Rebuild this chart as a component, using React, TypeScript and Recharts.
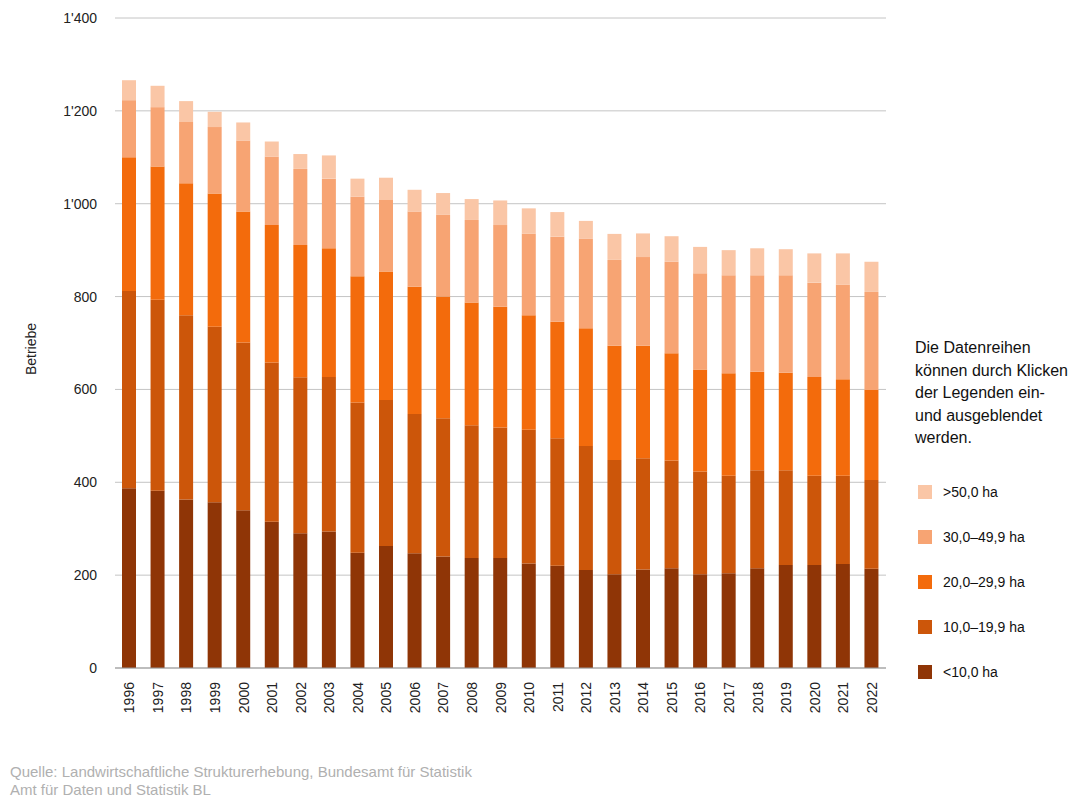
import { BarChart, Bar, XAxis, YAxis, CartesianGrid, Legend, Label } from 'recharts'

const years = [
  '1996', '1997', '1998', '1999', '2000', '2001', '2002', '2003', '2004',
  '2005', '2006', '2007', '2008', '2009', '2010', '2011', '2012', '2013',
  '2014', '2015', '2016', '2017', '2018', '2019', '2020', '2021', '2022',
]

// Betriebe nach Grössenklasse (landwirtschaftliche Nutzfläche)
const lt10 = [387, 382, 363, 357, 340, 315, 290, 294, 248, 263, 247, 240, 237, 237, 225, 220, 211, 202, 212, 215, 202, 204, 215, 222, 222, 224, 214]
const c10to20 = [425, 411, 397, 378, 361, 343, 336, 333, 324, 314, 300, 298, 286, 281, 288, 275, 267, 246, 240, 232, 221, 210, 211, 204, 192, 190, 191]
const c20to30 = [288, 287, 284, 287, 282, 296, 285, 277, 272, 277, 274, 262, 264, 260, 247, 251, 254, 246, 242, 231, 220, 221, 212, 210, 213, 208, 194]
const c30to50 = [123, 128, 132, 143, 153, 147, 164, 150, 171, 154, 162, 176, 178, 176, 176, 183, 193, 185, 191, 197, 207, 211, 208, 210, 203, 204, 211]
const gt50 = [43, 46, 45, 33, 39, 33, 32, 50, 39, 48, 47, 47, 45, 53, 54, 53, 38, 56, 51, 55, 57, 54, 58, 56, 63, 67, 65]

const yTicks = [0, 200, 400, 600, 800, 1000, 1200, 1400]

const series = [
  { key: 'lt10', name: '<10,0 ha', color: '#8f3506' },
  { key: 'c10to20', name: '10,0–19,9 ha', color: '#cc560a' },
  { key: 'c20to30', name: '20,0–29,9 ha', color: '#f36b0c' },
  { key: 'c30to50', name: '30,0–49,9 ha', color: '#f7a473' },
  { key: 'gt50', name: '>50,0 ha', color: '#fac6a6' },
]

const data = years.map((year, i) => ({
  year,
  lt10: lt10[i],
  c10to20: c10to20[i],
  c20to30: c20to30[i],
  c30to50: c30to50[i],
  gt50: gt50[i],
}))

const font = 'Arial, "Liberation Sans", sans-serif'

const formatThousands = (v: number) => String(v).replace(/\B(?=(\d{3})+(?!\d))/g, "'")

function YearTick({ x, y, payload }: any) {
  const ty = y + 6
  return (
    <text
      x={x}
      y={ty}
      transform={`rotate(-90, ${x}, ${ty})`}
      textAnchor="end"
      dominantBaseline="central"
      fontSize={14}
      fontFamily={font}
      fill="#222"
    >
      {payload.value}
    </text>
  )
}

function BetriebeLabel({ viewBox }: any) {
  const cx = viewBox.x + 31
  const cy = viewBox.y + viewBox.height / 2 + 6
  return (
    <text
      x={cx}
      y={cy}
      transform={`rotate(-90, ${cx}, ${cy})`}
      textAnchor="middle"
      dominantBaseline="central"
      fontSize={14}
      fontFamily={font}
      fill="#222"
    >
      Betriebe
    </text>
  )
}

// legend is listed top-down from the largest size class, like the stack
function LegendBox() {
  const items = [...series].reverse()
  return (
    <div style={{ fontFamily: font, color: '#111' }}>
      <div style={{ fontSize: 16, lineHeight: '22.5px', marginBottom: 20 }}>
        Die Datenreihen
        <br />
        können durch Klicken
        <br />
        der Legenden ein-
        <br />
        und ausgeblendet
        <br />
        werden.
      </div>
      {items.map((s) => (
        <div key={s.key} style={{ display: 'flex', alignItems: 'center', height: 45, fontSize: 14 }}>
          <span style={{ width: 14, height: 14, background: s.color, marginLeft: 3, marginRight: 11 }} />
          {s.name}
        </div>
      ))}
    </div>
  )
}

export default function App() {
  return (
    <div style={{ position: 'absolute', left: 0, top: 0, width: 1090, height: 798, background: '#fff' }}>
      <BarChart
        width={1090}
        height={740}
        data={data}
        margin={{ top: 18, right: 204, bottom: 0, left: 0 }}
        barSize={14}
      >
        <CartesianGrid vertical={false} stroke="#c4c4c4" />
        <XAxis
          dataKey="year"
          height={72}
          interval={0}
          tickLine={false}
          axisLine={{ stroke: '#999' }}
          tick={<YearTick />}
        />
        <YAxis
          width={115}
          domain={[0, 1400]}
          ticks={yTicks}
          tickFormatter={formatThousands}
          axisLine={false}
          tickLine={false}
          tickMargin={12}
          tick={{ fontSize: 14, fontFamily: font, fill: '#222' }}
        >
          <Label content={<BetriebeLabel />} />
        </YAxis>
        <Legend
          layout="vertical"
          align="center"
          verticalAlign="middle"
          content={<LegendBox />}
          wrapperStyle={{ left: 915, top: 337, width: 175 }}
        />
        {series.map((s) => (
          <Bar
            key={s.key}
            dataKey={s.key}
            name={s.name}
            stackId="a"
            fill={s.color}
            isAnimationActive={false}
          />
        ))}
      </BarChart>
      <div
        style={{
          position: 'absolute',
          left: 10,
          top: 763,
          fontFamily: font,
          fontSize: 15,
          lineHeight: '18px',
          color: '#b0b0b0',
        }}
      >
        Quelle: Landwirtschaftliche Strukturerhebung, Bundesamt für Statistik
        <br />
        Amt für Daten und Statistik BL
      </div>
    </div>
  )
}
